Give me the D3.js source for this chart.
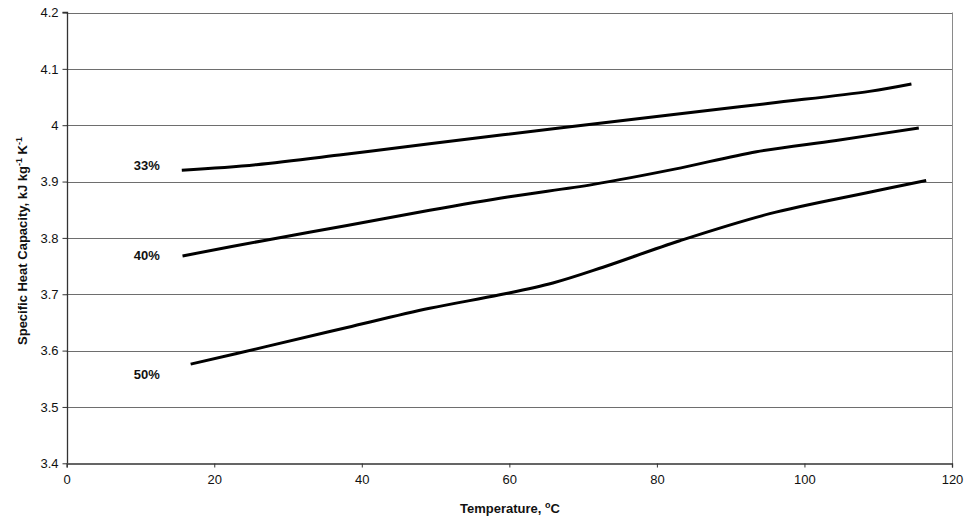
<!DOCTYPE html>
<html><head><meta charset="utf-8">
<script src="https://cdn.jsdelivr.net/npm/d3@7"></script>
<style>
body{margin:0;background:#fff;}
text{font-family:"Liberation Sans",Arial,sans-serif;}
</style></head>
<body><svg id="c" width="973" height="524"></svg>
<script>
const xTicks = [0,20,40,60,80,100,120];
const yTicks = [3.4,3.5,3.6,3.7,3.8,3.9,4.0,4.1,4.2];
const yTickLabels = ["3.4","3.5","3.6","3.7","3.8","3.9","4","4.1","4.2"];
const seriesNames = ["33%","40%","50%"];
const temp33 = [15.6,25.7,37.5,49.2,66.8,81.7,95.3,108.8,114.5];
const cp33   = [3.920,3.930,3.948,3.967,3.995,4.018,4.039,4.060,4.073];
const temp40 = [15.7,27,38,49.2,60,71.4,82.4,93.5,104.3,115.5];
const cp40   = [3.768,3.796,3.822,3.849,3.873,3.895,3.922,3.953,3.973,3.995];
const temp50 = [16.8,27,38,49.2,58.7,65.9,72.7,83.1,95.3,108.8,116.5];
const cp50   = [3.576,3.607,3.641,3.675,3.699,3.720,3.748,3.795,3.843,3.881,3.902];
const labelPos = [[9.1,3.927],[9.1,3.767],[9.1,3.556]];

const svg = d3.select("#c");
const L=66.7, R=952, T=12.5, B=463.3;
const x = d3.scaleLinear().domain([0,120]).range([L,R]);
const y = d3.scaleLinear().domain([3.4,4.2]).range([B,T]);

// gridlines
svg.append("g").selectAll("line").data(yTicks.slice(1)).join("line")
  .attr("x1",L).attr("x2",R).attr("y1",d=>Math.round(y(d))+0.5).attr("y2",d=>Math.round(y(d))+0.5)
  .attr("stroke","#6e6e6e").attr("stroke-width",1);
// right border
svg.append("line").attr("x1",Math.round(R)+0.5).attr("x2",Math.round(R)+0.5).attr("y1",T).attr("y2",B)
  .attr("stroke","#8a8a8a");

// axes
const yAxis = d3.axisLeft(y).tickValues(yTicks).tickFormat((d,i)=>yTickLabels[i]).tickSize(5).tickPadding(4);
const gy = svg.append("g").attr("transform",`translate(${Math.round(L)+0.5},0)`).call(yAxis);
const xAxis = d3.axisBottom(x).tickValues(xTicks).tickFormat(d=>d).tickSize(4).tickPadding(7);
const gx = svg.append("g").attr("transform",`translate(0,${Math.round(B)+0.5})`).call(xAxis);
[gy,gx].forEach(g=>{
  g.select(".domain").attr("stroke","#333").attr("stroke-width",1.3);
  g.selectAll(".tick line").attr("stroke","#333");
  g.selectAll(".tick text").attr("font-size",13).attr("fill","#111").attr("font-family","Liberation Sans, Arial, sans-serif");
});
gy.select(".domain").attr("d",`M-5,${T}H0V${B}`);

// lines
const line = d3.line().x(d=>x(d[0])).y(d=>y(d[1])).curve(d3.curveCatmullRom.alpha(0.5));
const data = [d3.zip(temp33,cp33), d3.zip(temp40,cp40), d3.zip(temp50,cp50)];
svg.append("g").selectAll("path").data(data).join("path")
  .attr("d",line).attr("fill","none").attr("stroke","#000").attr("stroke-width",3);

// series labels
svg.append("g").selectAll("text").data(seriesNames).join("text")
  .attr("x",(d,i)=>x(labelPos[i][0])).attr("y",(d,i)=>y(labelPos[i][1])+4)
  .attr("font-size",13).attr("font-weight","bold").attr("fill","#111").text(d=>d);

// x title
const xt = svg.append("text").attr("x",510).attr("y",513).attr("text-anchor","middle")
  .attr("font-size",13).attr("font-weight","bold").attr("fill","#111");
xt.append("tspan").text("Temperature, ");
xt.append("tspan").attr("font-size",9).attr("dy",-5).text("o");
xt.append("tspan").attr("dy",5).text("C");

// y title
const yt = svg.append("text").attr("transform","translate(27,241) rotate(-90)").attr("text-anchor","middle")
  .attr("font-size",13).attr("font-weight","bold").attr("fill","#111");
yt.append("tspan").text("Specific Heat Capacity, kJ kg");
yt.append("tspan").attr("font-size",9).attr("dy",-5).text("-1");
yt.append("tspan").attr("dy",5).text(" K");
yt.append("tspan").attr("font-size",9).attr("dy",-5).text("-1");
</script></body></html>
